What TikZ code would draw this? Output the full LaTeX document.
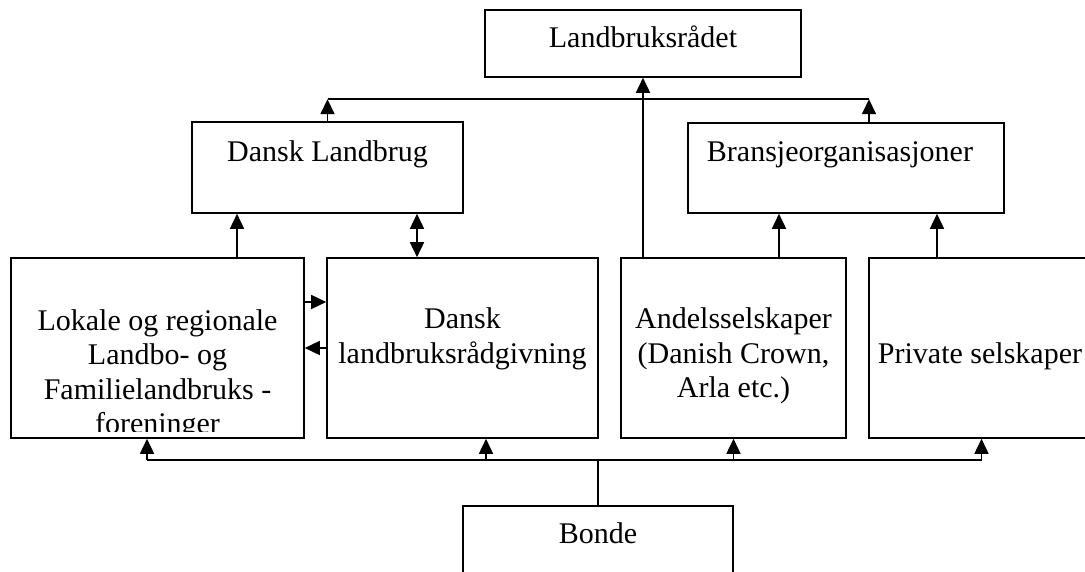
\documentclass[tikz,border=0pt]{standalone}
\usepackage{fontspec}
\setmainfont{Liberation Serif}
\usetikzlibrary{positioning,arrows.meta}
\tikzset{
	mybox/.style={draw,line width=1.6pt,inner sep=0pt},
	mytext/.style={inner sep=0pt,align=center,font=\fontsize{30}{34.5}\selectfont},
	myline/.style={line width=1.6pt},
	myarrow1/.style={-{Triangle[width=14pt,length=15pt]},line width=1.6pt},
	myarrow2/.style={{Triangle[width=14pt,length=15pt]}-{Triangle[width=14pt,length=15pt]},line width=1.6pt}
}
\begin{document}
\begin{tikzpicture}[x=1pt,y=-1pt]
		\useasboundingbox (0,0) rectangle (1085,572);
		% boxes
		\node[mybox,minimum width=316pt,minimum height=67pt](lr) at (643,43.5){};
		\node[mybox,minimum width=271pt,minimum height=91pt](dl) at (327.5,167.5){};
		\node[mybox,minimum width=316pt,minimum height=90pt](bo) at (846,168){};
		\node[mybox,minimum width=293pt,minimum height=180pt](lok) at (157.5,348){};
		\node[mybox,minimum width=271pt,minimum height=180pt](dlr) at (462.5,348){};
		\node[mybox,minimum width=225pt,minimum height=180pt](andel) at (733.5,348){};
		\node[mybox,minimum width=225pt,minimum height=180pt](priv) at (981.5,348){};
		\node[mybox,minimum width=270pt,minimum height=100pt](bonde) at (598,556){};
		% texts
		\node[mytext,anchor=base](lrtext) at (643,48){Landbruksrådet};
		\node[mytext,anchor=base](dltext) at (327.5,162){Dansk Landbrug};
		\node[mytext,anchor=base](botext) at (840,162){Bransjeorganisasjoner};
		\begin{scope}
			\clip (lok.north west) rectangle ([yshift=7pt]lok.south east);
			\node[mytext](loktext) at (157.5,375){Lokale og regionale\\Landbo- og\\Familielandbruks -\\foreninger};
		\end{scope}
		\node[mytext](dlrtext) at (462.5,339){Dansk\\landbruksrådgivning};
		\node[mytext](andeltext) at (733.5,356){Andelsselskaper\\(Danish Crown,\\Arla etc.)};
		\node[mytext,anchor=base](privtext) at (980,363){Private selskaper};
		\node[mytext,anchor=base](bondetext) at (598,543){Bonde};
		% upper connectors
		\coordinate (busL) at ([yshift=22pt]dl.north);
		\coordinate (busR) at ([xshift=23pt,yshift=23pt]bo.north);
		\draw[myline] (busL) -- (busR);
		\draw[myarrow1] (dl.north) -- (busL);
		\draw[myarrow1] ([xshift=23pt]bo.north) -- (busR);
		\draw[myarrow1] (lr.south |- andel.north) -- (lr.south);
		\draw[myarrow1] ([xshift=45.5pt]andel.north) -- ([xshift=45.5pt]andel.north |- bo.south);
		\draw[myarrow1] ([xshift=-44.5pt]priv.north) -- ([xshift=-44.5pt]priv.north |- bo.south);
		\draw[myarrow1] ([xshift=79.5pt]lok.north) -- ([xshift=79.5pt]lok.north |- dl.south);
		\draw[myarrow2] ([xshift=-45.5pt]dlr.north) -- ([xshift=-45.5pt]dlr.north |- dl.south);
		\draw[myarrow1] ([yshift=46pt]lok.east) -- ([yshift=46pt]lok.east -| dlr.west);
		\draw[myarrow1] (dlr.west) -- (lok.east);
		% lower connectors
		\coordinate (busB) at ([yshift=45pt]bonde.north);
		\draw[myline] (bonde.north) -- (busB);
		\draw[myline] ([xshift=-10.5pt]lok.south |- busB) -- (priv.south |- busB);
		\draw[myarrow1] ([xshift=-10.5pt]lok.south |- busB) -- ([xshift=-10.5pt]lok.south);
		\draw[myarrow1] ([xshift=23.5pt]dlr.south |- busB) -- ([xshift=23.5pt]dlr.south);
		\draw[myarrow1] (andel.south |- busB) -- (andel.south);
		\draw[myarrow1] (priv.south |- busB) -- (priv.south);
	\end{tikzpicture}
\end{document}
